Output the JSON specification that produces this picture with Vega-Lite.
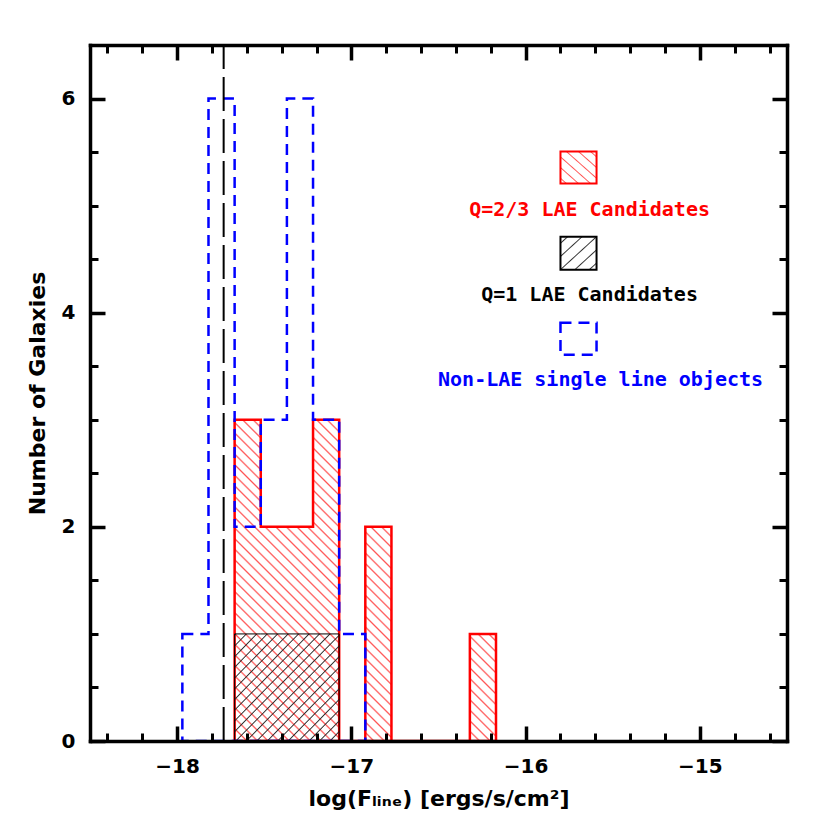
{
  "$schema": "https://vega.github.io/schema/vega-lite/v6.json",
  "width": 697,
  "height": 696,
  "autosize": {"type": "none"},
  "padding": {"left": 90, "top": 45, "right": 43, "bottom": 89},
  "background": "white",
  "config": {
    "view": {"stroke": null},
    "axis": {
      "grid": false,
      "domainColor": "black",
      "domainWidth": 3.5,
      "domainCap": "square",
      "tickColor": "black",
      "tickWidth": 3.5,
      "labelFont": "DejaVu Sans",
      "labelFontWeight": "bold",
      "labelFontSize": 20,
      "labelColor": "black",
      "titleFont": "DejaVu Sans",
      "titleFontWeight": "bold",
      "titleFontSize": 22,
      "titleColor": "black"
    }
  },
  "data": {
    "values": [
      {"sample": "Q=2/3", "bin_start": -17.67, "count": 3},
      {"sample": "Q=2/3", "bin_start": -17.52, "count": 2},
      {"sample": "Q=2/3", "bin_start": -17.37, "count": 2},
      {"sample": "Q=2/3", "bin_start": -17.22, "count": 3},
      {"sample": "Q=2/3", "bin_start": -17.07, "count": 0},
      {"sample": "Q=2/3", "bin_start": -16.92, "count": 2},
      {"sample": "Q=2/3", "bin_start": -16.77, "count": 0},
      {"sample": "Q=2/3", "bin_start": -16.62, "count": 0},
      {"sample": "Q=2/3", "bin_start": -16.47, "count": 0},
      {"sample": "Q=2/3", "bin_start": -16.32, "count": 1},
      {"sample": "Q=2/3", "bin_start": -16.17, "count": 0},
      {"sample": "Q=1", "bin_start": -17.67, "count": 1},
      {"sample": "Q=1", "bin_start": -17.52, "count": 1},
      {"sample": "Q=1", "bin_start": -17.37, "count": 1},
      {"sample": "Q=1", "bin_start": -17.22, "count": 1},
      {"sample": "Q=1", "bin_start": -17.07, "count": 0},
      {"sample": "Non-LAE", "bin_start": -17.97, "count": 1},
      {"sample": "Non-LAE", "bin_start": -17.82, "count": 6},
      {"sample": "Non-LAE", "bin_start": -17.67, "count": 2},
      {"sample": "Non-LAE", "bin_start": -17.52, "count": 3},
      {"sample": "Non-LAE", "bin_start": -17.37, "count": 6},
      {"sample": "Non-LAE", "bin_start": -17.22, "count": 3},
      {"sample": "Non-LAE", "bin_start": -17.07, "count": 1},
      {"sample": "Non-LAE", "bin_start": -16.92, "count": 0}
    ]
  },
  "resolve": {"axis": {"x": "independent", "y": "independent"}},
  "layer": [
    {
      "transform": [{"filter": "datum.sample == 'Q=2/3'"}],
      "mark": {
        "type": "area",
        "interpolate": "step-after",
        "stroke": "#ff0000",
        "strokeWidth": 2.5,
        "fill": {
          "gradient": "linear",
          "x1": 0, "y1": 1, "x2": 0.894, "y2": -0.1,
          "stops": [
            {"offset": 0, "color": "#fff"}, {"offset": 0.003, "color": "#f55"}, {"offset": 0.006, "color": "#fff"},
            {"offset": 0.018, "color": "#fff"}, {"offset": 0.021, "color": "#f55"}, {"offset": 0.024, "color": "#fff"},
            {"offset": 0.036, "color": "#fff"}, {"offset": 0.039, "color": "#f55"}, {"offset": 0.042, "color": "#fff"},
            {"offset": 0.054, "color": "#fff"}, {"offset": 0.057, "color": "#f55"}, {"offset": 0.06, "color": "#fff"},
            {"offset": 0.072, "color": "#fff"}, {"offset": 0.075, "color": "#f55"}, {"offset": 0.078, "color": "#fff"},
            {"offset": 0.09, "color": "#fff"}, {"offset": 0.093, "color": "#f55"}, {"offset": 0.096, "color": "#fff"},
            {"offset": 0.108, "color": "#fff"}, {"offset": 0.111, "color": "#f55"}, {"offset": 0.114, "color": "#fff"},
            {"offset": 0.126, "color": "#fff"}, {"offset": 0.129, "color": "#f55"}, {"offset": 0.132, "color": "#fff"},
            {"offset": 0.144, "color": "#fff"}, {"offset": 0.147, "color": "#f55"}, {"offset": 0.15, "color": "#fff"},
            {"offset": 0.162, "color": "#fff"}, {"offset": 0.165, "color": "#f55"}, {"offset": 0.168, "color": "#fff"},
            {"offset": 0.18, "color": "#fff"}, {"offset": 0.183, "color": "#f55"}, {"offset": 0.186, "color": "#fff"},
            {"offset": 0.198, "color": "#fff"}, {"offset": 0.201, "color": "#f55"}, {"offset": 0.204, "color": "#fff"},
            {"offset": 0.216, "color": "#fff"}, {"offset": 0.219, "color": "#f55"}, {"offset": 0.222, "color": "#fff"},
            {"offset": 0.234, "color": "#fff"}, {"offset": 0.237, "color": "#f55"}, {"offset": 0.24, "color": "#fff"},
            {"offset": 0.252, "color": "#fff"}, {"offset": 0.255, "color": "#f55"}, {"offset": 0.258, "color": "#fff"},
            {"offset": 0.27, "color": "#fff"}, {"offset": 0.273, "color": "#f55"}, {"offset": 0.276, "color": "#fff"},
            {"offset": 0.288, "color": "#fff"}, {"offset": 0.291, "color": "#f55"}, {"offset": 0.294, "color": "#fff"},
            {"offset": 0.306, "color": "#fff"}, {"offset": 0.309, "color": "#f55"}, {"offset": 0.312, "color": "#fff"},
            {"offset": 0.324, "color": "#fff"}, {"offset": 0.327, "color": "#f55"}, {"offset": 0.33, "color": "#fff"},
            {"offset": 0.342, "color": "#fff"}, {"offset": 0.345, "color": "#f55"}, {"offset": 0.348, "color": "#fff"},
            {"offset": 0.36, "color": "#fff"}, {"offset": 0.363, "color": "#f55"}, {"offset": 0.366, "color": "#fff"},
            {"offset": 0.378, "color": "#fff"}, {"offset": 0.381, "color": "#f55"}, {"offset": 0.384, "color": "#fff"},
            {"offset": 0.396, "color": "#fff"}, {"offset": 0.399, "color": "#f55"}, {"offset": 0.402, "color": "#fff"},
            {"offset": 0.414, "color": "#fff"}, {"offset": 0.417, "color": "#f55"}, {"offset": 0.42, "color": "#fff"},
            {"offset": 0.432, "color": "#fff"}, {"offset": 0.435, "color": "#f55"}, {"offset": 0.438, "color": "#fff"},
            {"offset": 0.45, "color": "#fff"}, {"offset": 0.453, "color": "#f55"}, {"offset": 0.456, "color": "#fff"},
            {"offset": 0.468, "color": "#fff"}, {"offset": 0.471, "color": "#f55"}, {"offset": 0.474, "color": "#fff"},
            {"offset": 0.486, "color": "#fff"}, {"offset": 0.489, "color": "#f55"}, {"offset": 0.492, "color": "#fff"},
            {"offset": 0.504, "color": "#fff"}, {"offset": 0.507, "color": "#f55"}, {"offset": 0.51, "color": "#fff"},
            {"offset": 0.522, "color": "#fff"}, {"offset": 0.525, "color": "#f55"}, {"offset": 0.528, "color": "#fff"},
            {"offset": 0.54, "color": "#fff"}, {"offset": 0.543, "color": "#f55"}, {"offset": 0.546, "color": "#fff"},
            {"offset": 0.558, "color": "#fff"}, {"offset": 0.561, "color": "#f55"}, {"offset": 0.564, "color": "#fff"},
            {"offset": 0.576, "color": "#fff"}, {"offset": 0.579, "color": "#f55"}, {"offset": 0.582, "color": "#fff"},
            {"offset": 0.594, "color": "#fff"}, {"offset": 0.597, "color": "#f55"}, {"offset": 0.6, "color": "#fff"},
            {"offset": 0.612, "color": "#fff"}, {"offset": 0.615, "color": "#f55"}, {"offset": 0.618, "color": "#fff"},
            {"offset": 0.63, "color": "#fff"}, {"offset": 0.633, "color": "#f55"}, {"offset": 0.636, "color": "#fff"},
            {"offset": 0.648, "color": "#fff"}, {"offset": 0.651, "color": "#f55"}, {"offset": 0.654, "color": "#fff"},
            {"offset": 0.666, "color": "#fff"}, {"offset": 0.669, "color": "#f55"}, {"offset": 0.672, "color": "#fff"},
            {"offset": 0.684, "color": "#fff"}, {"offset": 0.687, "color": "#f55"}, {"offset": 0.69, "color": "#fff"},
            {"offset": 0.702, "color": "#fff"}, {"offset": 0.705, "color": "#f55"}, {"offset": 0.708, "color": "#fff"},
            {"offset": 0.72, "color": "#fff"}, {"offset": 0.723, "color": "#f55"}, {"offset": 0.726, "color": "#fff"},
            {"offset": 0.738, "color": "#fff"}, {"offset": 0.741, "color": "#f55"}, {"offset": 0.744, "color": "#fff"},
            {"offset": 0.756, "color": "#fff"}, {"offset": 0.759, "color": "#f55"}, {"offset": 0.762, "color": "#fff"},
            {"offset": 0.774, "color": "#fff"}, {"offset": 0.777, "color": "#f55"}, {"offset": 0.78, "color": "#fff"},
            {"offset": 0.792, "color": "#fff"}, {"offset": 0.795, "color": "#f55"}, {"offset": 0.798, "color": "#fff"},
            {"offset": 0.81, "color": "#fff"}, {"offset": 0.813, "color": "#f55"}, {"offset": 0.816, "color": "#fff"},
            {"offset": 0.828, "color": "#fff"}, {"offset": 0.831, "color": "#f55"}, {"offset": 0.834, "color": "#fff"},
            {"offset": 0.846, "color": "#fff"}, {"offset": 0.849, "color": "#f55"}, {"offset": 0.852, "color": "#fff"},
            {"offset": 0.864, "color": "#fff"}, {"offset": 0.867, "color": "#f55"}, {"offset": 0.87, "color": "#fff"},
            {"offset": 0.882, "color": "#fff"}, {"offset": 0.885, "color": "#f55"}, {"offset": 0.888, "color": "#fff"},
            {"offset": 0.9, "color": "#fff"}, {"offset": 0.903, "color": "#f55"}, {"offset": 0.906, "color": "#fff"},
            {"offset": 0.918, "color": "#fff"}, {"offset": 0.921, "color": "#f55"}, {"offset": 0.924, "color": "#fff"},
            {"offset": 0.936, "color": "#fff"}, {"offset": 0.939, "color": "#f55"}, {"offset": 0.942, "color": "#fff"},
            {"offset": 0.954, "color": "#fff"}, {"offset": 0.957, "color": "#f55"}, {"offset": 0.96, "color": "#fff"},
            {"offset": 0.972, "color": "#fff"}, {"offset": 0.975, "color": "#f55"}, {"offset": 0.978, "color": "#fff"},
            {"offset": 0.99, "color": "#fff"}, {"offset": 0.993, "color": "#f55"}, {"offset": 0.996, "color": "#fff"}
          ]
        }
      },
      "encoding": {
        "x": {
          "field": "bin_start", "type": "quantitative",
          "scale": {"domain": [-18.5, -14.5], "nice": false, "zero": false},
          "axis": {"orient": "bottom", "zindex": 1, "values": [-18, -17, -16, -15], "tickSize": -15, "labelPadding": 30,
                   "title": "log(Fₗᵢₙₑ) [ergs/s/cm²]", "titlePadding": 12}
        },
        "y": {
          "field": "count", "type": "quantitative",
          "scale": {"domain": [0, 6.5], "nice": false},
          "axis": {"orient": "left", "zindex": 1, "values": [0, 2, 4, 6], "tickSize": -15, "labelPadding": 30,
                   "title": "Number of Galaxies", "titlePadding": 12}
        }
      }
    },
    {
      "transform": [{"filter": "datum.sample == 'Q=1'"}],
      "mark": {
        "type": "area",
        "interpolate": "step-after",
        "stroke": "black",
        "strokeWidth": 1,
        "fill": {
          "gradient": "linear",
          "x1": 0, "y1": 0, "x2": 1, "y2": 1,
          "stops": [
            {"offset": 0, "color": "rgba(0,0,0,0)"}, {"offset": 0.006, "color": "#333"}, {"offset": 0.012, "color": "rgba(0,0,0,0)"},
            {"offset": 0.05, "color": "rgba(0,0,0,0)"}, {"offset": 0.056, "color": "#333"}, {"offset": 0.062, "color": "rgba(0,0,0,0)"},
            {"offset": 0.1, "color": "rgba(0,0,0,0)"}, {"offset": 0.106, "color": "#333"}, {"offset": 0.112, "color": "rgba(0,0,0,0)"},
            {"offset": 0.15, "color": "rgba(0,0,0,0)"}, {"offset": 0.156, "color": "#333"}, {"offset": 0.162, "color": "rgba(0,0,0,0)"},
            {"offset": 0.2, "color": "rgba(0,0,0,0)"}, {"offset": 0.206, "color": "#333"}, {"offset": 0.212, "color": "rgba(0,0,0,0)"},
            {"offset": 0.25, "color": "rgba(0,0,0,0)"}, {"offset": 0.256, "color": "#333"}, {"offset": 0.262, "color": "rgba(0,0,0,0)"},
            {"offset": 0.3, "color": "rgba(0,0,0,0)"}, {"offset": 0.306, "color": "#333"}, {"offset": 0.312, "color": "rgba(0,0,0,0)"},
            {"offset": 0.35, "color": "rgba(0,0,0,0)"}, {"offset": 0.356, "color": "#333"}, {"offset": 0.362, "color": "rgba(0,0,0,0)"},
            {"offset": 0.4, "color": "rgba(0,0,0,0)"}, {"offset": 0.406, "color": "#333"}, {"offset": 0.412, "color": "rgba(0,0,0,0)"},
            {"offset": 0.45, "color": "rgba(0,0,0,0)"}, {"offset": 0.456, "color": "#333"}, {"offset": 0.462, "color": "rgba(0,0,0,0)"},
            {"offset": 0.5, "color": "rgba(0,0,0,0)"}, {"offset": 0.506, "color": "#333"}, {"offset": 0.512, "color": "rgba(0,0,0,0)"},
            {"offset": 0.55, "color": "rgba(0,0,0,0)"}, {"offset": 0.556, "color": "#333"}, {"offset": 0.562, "color": "rgba(0,0,0,0)"},
            {"offset": 0.6, "color": "rgba(0,0,0,0)"}, {"offset": 0.606, "color": "#333"}, {"offset": 0.612, "color": "rgba(0,0,0,0)"},
            {"offset": 0.65, "color": "rgba(0,0,0,0)"}, {"offset": 0.656, "color": "#333"}, {"offset": 0.662, "color": "rgba(0,0,0,0)"},
            {"offset": 0.7, "color": "rgba(0,0,0,0)"}, {"offset": 0.706, "color": "#333"}, {"offset": 0.712, "color": "rgba(0,0,0,0)"},
            {"offset": 0.75, "color": "rgba(0,0,0,0)"}, {"offset": 0.756, "color": "#333"}, {"offset": 0.762, "color": "rgba(0,0,0,0)"},
            {"offset": 0.8, "color": "rgba(0,0,0,0)"}, {"offset": 0.806, "color": "#333"}, {"offset": 0.812, "color": "rgba(0,0,0,0)"},
            {"offset": 0.85, "color": "rgba(0,0,0,0)"}, {"offset": 0.856, "color": "#333"}, {"offset": 0.862, "color": "rgba(0,0,0,0)"},
            {"offset": 0.9, "color": "rgba(0,0,0,0)"}, {"offset": 0.906, "color": "#333"}, {"offset": 0.912, "color": "rgba(0,0,0,0)"},
            {"offset": 0.95, "color": "rgba(0,0,0,0)"}, {"offset": 0.956, "color": "#333"}, {"offset": 0.962, "color": "rgba(0,0,0,0)"}
          ]
        }
      },
      "encoding": {
        "x": {
          "field": "bin_start", "type": "quantitative",
          "axis": {"orient": "bottom", "zindex": 1, "values": [-18.4, -18.2, -17.8, -17.6, -17.4, -17.2, -16.8, -16.6, -16.4, -16.2, -15.8, -15.6, -15.4, -15.2, -14.8, -14.6],
                   "tickSize": -8, "tickWidth": 3, "labels": false, "domain": false, "title": null}
        },
        "y": {
          "field": "count", "type": "quantitative",
          "axis": {"orient": "left", "zindex": 1, "values": [0.5, 1, 1.5, 2.5, 3, 3.5, 4.5, 5, 5.5],
                   "tickSize": -8, "tickWidth": 3, "labels": false, "domain": false, "title": null}
        }
      }
    },
    {
      "transform": [{"filter": "datum.sample == 'Non-LAE'"}],
      "mark": {
        "type": "area",
        "interpolate": "step-after",
        "fill": "transparent",
        "stroke": "#0000ff",
        "strokeWidth": 2.5,
        "strokeDash": [11, 7]
      },
      "encoding": {
        "x": {
          "field": "bin_start", "type": "quantitative",
          "axis": {"orient": "top", "zindex": 1, "values": [-18, -17, -16, -15], "tickSize": -15, "labels": false, "title": null}
        },
        "y": {
          "field": "count", "type": "quantitative",
          "axis": {"orient": "right", "zindex": 1, "values": [0, 2, 4, 6], "tickSize": -15, "labels": false, "title": null}
        }
      }
    },
    {
      "mark": {"type": "rule", "color": "black", "strokeWidth": 2, "strokeDash": [34, 8]},
      "data": {"values": [{"limit": -17.733}]},
      "encoding": {
        "x": {
          "field": "limit", "type": "quantitative",
          "axis": {"orient": "top", "zindex": 1, "values": [-18.4, -18.2, -17.8, -17.6, -17.4, -17.2, -16.8, -16.6, -16.4, -16.2, -15.8, -15.6, -15.4, -15.2, -14.8, -14.6],
                   "tickSize": -8, "tickWidth": 3, "labels": false, "domain": false, "title": null}
        },
        "y": {
          "datum": 0,
          "axis": {"orient": "right", "zindex": 1, "values": [0.5, 1, 1.5, 2.5, 3, 3.5, 4.5, 5, 5.5],
                   "tickSize": -8, "tickWidth": 3, "labels": false, "domain": false, "title": null}
        },
        "y2": {"datum": 6.5}
      }
    },
    {
      "data": {"values": [{"label": "Q=2/3 LAE Candidates"}]},
      "layer": [
        {
          "mark": {
            "type": "rect",
            "stroke": "#ff0000",
            "strokeWidth": 2,
            "fill": {
              "gradient": "linear",
              "x1": 0, "y1": 1, "x2": 1, "y2": 0,
              "stops": [
                {"offset": 0.063, "color": "#fff"}, {"offset": 0.083, "color": "#f55"}, {"offset": 0.103, "color": "#fff"},
                {"offset": 0.23, "color": "#fff"}, {"offset": 0.25, "color": "#f55"}, {"offset": 0.27, "color": "#fff"},
                {"offset": 0.397, "color": "#fff"}, {"offset": 0.417, "color": "#f55"}, {"offset": 0.437, "color": "#fff"},
                {"offset": 0.563, "color": "#fff"}, {"offset": 0.583, "color": "#f55"}, {"offset": 0.603, "color": "#fff"},
                {"offset": 0.73, "color": "#fff"}, {"offset": 0.75, "color": "#f55"}, {"offset": 0.77, "color": "#fff"},
                {"offset": 0.897, "color": "#fff"}, {"offset": 0.917, "color": "#f55"}, {"offset": 0.937, "color": "#fff"}
              ]
            }
          },
          "encoding": {
            "x": {"datum": -15.8, "axis": null},
            "x2": {"datum": -15.593},
            "y": {"datum": 5.505, "axis": null},
            "y2": {"datum": 5.206}
          }
        },
        {
          "mark": {"type": "text", "color": "#ff0000", "font": "DejaVu Sans Mono", "fontWeight": "bold", "fontSize": 20, "align": "center", "baseline": "middle"},
          "encoding": {
            "x": {"datum": -15.633, "axis": null},
            "y": {"datum": 4.963, "axis": null},
            "text": {"field": "label"}
          }
        }
      ]
    },
    {
      "data": {"values": [{"label": "Q=1 LAE Candidates"}]},
      "layer": [
        {
          "mark": {
            "type": "rect",
            "stroke": "black",
            "strokeWidth": 2,
            "fill": {
              "gradient": "linear",
              "x1": 0, "y1": 0, "x2": 1, "y2": 1,
              "stops": [
                {"offset": 0.08, "color": "#fff"}, {"offset": 0.1, "color": "#333"}, {"offset": 0.12, "color": "#fff"},
                {"offset": 0.28, "color": "#fff"}, {"offset": 0.3, "color": "#333"}, {"offset": 0.32, "color": "#fff"},
                {"offset": 0.48, "color": "#fff"}, {"offset": 0.5, "color": "#333"}, {"offset": 0.52, "color": "#fff"},
                {"offset": 0.68, "color": "#fff"}, {"offset": 0.7, "color": "#333"}, {"offset": 0.72, "color": "#fff"},
                {"offset": 0.88, "color": "#fff"}, {"offset": 0.9, "color": "#333"}, {"offset": 0.92, "color": "#fff"}
              ]
            }
          },
          "encoding": {
            "x": {"datum": -15.8, "axis": null},
            "x2": {"datum": -15.593},
            "y": {"datum": 4.71, "axis": null},
            "y2": {"datum": 4.402}
          }
        },
        {
          "mark": {"type": "text", "color": "black", "font": "DejaVu Sans Mono", "fontWeight": "bold", "fontSize": 20, "align": "center", "baseline": "middle"},
          "encoding": {
            "x": {"datum": -15.633, "axis": null},
            "y": {"datum": 4.168, "axis": null},
            "text": {"field": "label"}
          }
        }
      ]
    },
    {
      "data": {"values": [{"label": "Non-LAE single line objects"}]},
      "layer": [
        {
          "mark": {"type": "rect", "fill": "transparent", "stroke": "#0000ff", "strokeWidth": 2.5, "strokeDash": [11, 7]},
          "encoding": {
            "x": {"datum": -15.8, "axis": null},
            "x2": {"datum": -15.593},
            "y": {"datum": 3.907, "axis": null},
            "y2": {"datum": 3.607}
          }
        },
        {
          "mark": {"type": "text", "color": "#0000ff", "font": "DejaVu Sans Mono", "fontWeight": "bold", "fontSize": 20, "align": "center", "baseline": "middle"},
          "encoding": {
            "x": {"datum": -15.57, "axis": null},
            "y": {"datum": 3.374, "axis": null},
            "text": {"field": "label"}
          }
        }
      ]
    }
  ]
}
